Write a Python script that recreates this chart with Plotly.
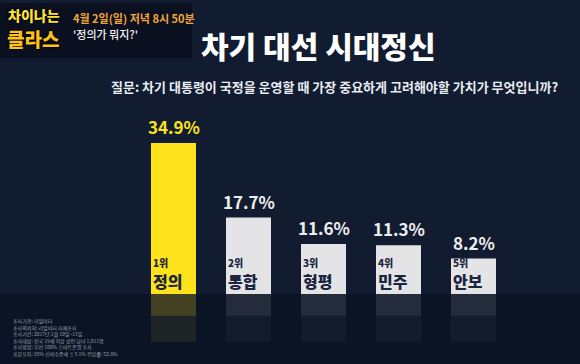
import plotly.graph_objects as go
import numpy as np

categories = ["정의", "통합", "형평", "민주", "안보"]
ranks = ["1위", "2위", "3위", "4위", "5위"]
values = [34.9, 17.7, 11.6, 11.3, 8.2]
bar_colors = ["#fde21c", "#e4e4e6", "#e4e4e6", "#e4e4e6", "#e4e4e6"]
label_colors = ["#fde21c", "#eeeeee", "#eeeeee", "#eeeeee", "#eeeeee"]
refl_colors = ["rgba(253,226,28,0.16)"] + ["rgba(210,215,225,0.09)"] * 4
refl_colors2 = ["rgba(253,226,28,0.08)"] + ["rgba(210,215,225,0.045)"] * 4

title = "차기 대선 시대정신"
question = "질문: 차기 대통령이 국정을 운영할 때 가장 중요하게 고려해야할 가치가 무엇입니까?"
notes = [
    "조사기관: 리얼미터",
    "조사의뢰처: 리얼미터 자체조사",
    "조사기간: 2017년 1월 10일~11일",
    "조사대상: 전국 19세 이상 성인 남녀 1,011명",
    "조사방법: 무선 100% 스마트폰앱 조사",
    "표본오차: 95% 신뢰수준에 ±3.1% 응답률: 52.8%",
]

KR = "Noto Sans CJK KR"
x = list(range(len(categories)))

fig = go.Figure()
# reflections (faint mirrored blocks under the floor)
fig.add_trace(go.Bar(x=x, y=np.full(len(x), -11.0), marker=dict(color=refl_colors2, line=dict(width=0)),
                     width=0.6, hoverinfo="skip", showlegend=False))
fig.add_trace(go.Bar(x=x, y=np.full(len(x), -5.0), marker=dict(color=refl_colors, line=dict(width=0)),
                     width=0.6, hoverinfo="skip", showlegend=False))
# main bars
fig.add_trace(go.Bar(
    x=x, y=values, width=0.6,
    marker=dict(color=bar_colors, line=dict(width=0)),
    hoverinfo="skip", showlegend=False,
))

annotations = []
for i, (c, r, v, lc) in enumerate(zip(categories, ranks, values, label_colors)):
    annotations.append(dict(x=i, y=v, xref="x", yref="y", xanchor="center", yanchor="bottom",
                            text=f"{v:.1f}%", showarrow=False, yshift=3, borderpad=0,
                            font=dict(family=KR, size=17, color=lc, weight=700)))
    annotations.append(dict(x=i - 0.3, y=0, xref="x", yref="y", xanchor="left", yanchor="bottom",
                            text=f"<span style='font-size:10px'>{r}</span><br>{c}",
                            align="left", showarrow=False, xshift=1, yshift=0, borderpad=0,
                            font=dict(family=KR, size=16, color="#1c2540", weight=900)))

L, R, T, B = 136, 69, 121, 5
W, H = 580, 364
pw = W - L - R
ph = H - T - B

def px(xp):
    return (xp - L) / pw

def py(yp):
    return (H - B - yp) / ph

# title
annotations.append(dict(x=px(318), y=py(45), xref="paper", yref="paper", text=title, showarrow=False,
                        xanchor="center", yanchor="middle",
                        font=dict(family=KR, size=30, color="#ffffff", weight=900)))
# question
annotations.append(dict(x=px(560), y=py(86), xref="paper", yref="paper", text=question, showarrow=False,
                        xanchor="right", yanchor="middle",
                        font=dict(family=KR, size=13, color="#e8ebf0", weight=700)))
# logo
annotations.append(dict(x=px(7), y=py(15), xref="paper", yref="paper", text="차이나는", showarrow=False,
                        xanchor="left", yanchor="middle", borderpad=0,
                        font=dict(family=KR, size=14, color="#ffe23a", weight=900,
                                  shadow="1px 1px 1px #000, -1px -1px 1px #000")))
annotations.append(dict(x=px(6), y=py(39), xref="paper", yref="paper", text="클라스", showarrow=False,
                        xanchor="left", yanchor="middle", borderpad=0,
                        font=dict(family=KR, size=19, color="#ffc21a", weight=900,
                                  shadow="1px 1px 1px #000, -1px -1px 1px #000")))
annotations.append(dict(x=px(71), y=py(18), xref="paper", yref="paper", text="4월 2일(일) 저녁 8시 50분",
                        showarrow=False, xanchor="left", yanchor="middle",
                        font=dict(family=KR, size=11, color="#f2a63a", weight=700)))
annotations.append(dict(x=px(71), y=py(34), xref="paper", yref="paper", text="'정의가 뭐지?'",
                        showarrow=False, xanchor="left", yanchor="middle",
                        font=dict(family=KR, size=11, color="#f2f2f2", weight=500)))
# footnotes
annotations.append(dict(x=px(12), y=py(359), xref="paper", yref="paper", text="<br>".join(notes),
                        showarrow=False, xanchor="left", yanchor="bottom", align="left", borderpad=0,
                        font=dict(family=KR, size=5, color="#9aa1ad")))

shapes = [
    dict(type="rect", xref="paper", yref="paper", x0=px(0), x1=px(192), y0=py(58), y1=py(3),
         fillcolor="#0a1020", line=dict(width=0), layer="below"),
    dict(type="rect", xref="paper", yref="paper", x0=px(0), x1=px(580), y0=py(364), y1=py(294),
         fillcolor="rgba(5,10,22,0.45)", line=dict(width=0), layer="below"),
]

fig.update_layout(
    width=W, height=H,
    margin=dict(l=L, r=R, t=T, b=B),
    paper_bgcolor="#111c31",
    plot_bgcolor="rgba(0,0,0,0)",
    barmode="overlay",
    bargap=0.4,
    xaxis=dict(range=[-0.5, 4.5], visible=False, fixedrange=True),
    yaxis=dict(range=[-15, 40], visible=False, fixedrange=True),
    annotations=annotations,
    shapes=shapes,
    showlegend=False,
)

fig.write_html("out.html")
